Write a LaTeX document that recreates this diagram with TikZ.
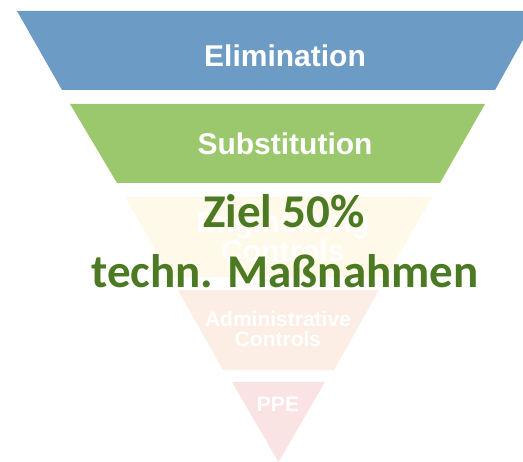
\documentclass[tikz,border=0pt]{standalone}
\usepackage{fontspec}
\setmainfont{Carlito}
\newfontfamily\helv{Liberation Sans}
\definecolor{elimblue}{HTML}{6C9BC6}
\definecolor{substgreen}{HTML}{9CC86D}
\definecolor{engyellow}{HTML}{FEF9E8}
\definecolor{admorange}{HTML}{FCEDE5}
\definecolor{ppepink}{HTML}{F9E3E3}
\definecolor{zielgreen}{HTML}{4C7A22}
\begin{document}
\begin{tikzpicture}[x=1pt,y=-1pt,
  lvl/.style={text=white, font=\helv\bfseries\fontsize{30}{29}\selectfont, anchor=base},
  lvlsmall/.style={text=white, font=\helv\bfseries\fontsize{21}{20}\selectfont, anchor=base},
  ziel/.style={text=zielgreen, font=\bfseries\fontsize{47}{60}\selectfont, anchor=base}]
\useasboundingbox (0,0) rectangle (523,462);
\clip (0,0) rectangle (523,462);
\fill[elimblue] (17,11) -- (539,11) -- (495,90) -- (62,90) -- cycle;
\fill[substgreen] (70,104) -- (485,104) -- (440,183) -- (117,183) -- cycle;
\fill[engyellow] (125,197) -- (432,197) -- (386,277) -- (171,277) -- cycle;
\fill[admorange] (178,290) -- (379,290) -- (334,370) -- (223,370) -- cycle;
\fill[ppepink] (232,382) -- (325,382) -- (278.5,462) -- cycle;
\node[lvl] (lbl0) at (285,67) {Elimination};
\node[lvl] (lbl1) at (285,155) {Substitution};
\node[lvl] (lbl2a) at (283,233) {Engineering};
\node[lvl] (lbl2b) at (283,262) {Controls};
\node[lvlsmall] (lbl3a) at (278,327) {Administrative};
\node[lvlsmall] (lbl3b) at (278,347) {Controls};
\node[lvlsmall] (lbl4) at (278,412) {PPE};
\node[ziel] (ziel0) at (284,228) {Ziel 50\%};
\node[ziel] (ziel1) at (285,288) {techn. Maßnahmen};
\end{tikzpicture}
\end{document}
